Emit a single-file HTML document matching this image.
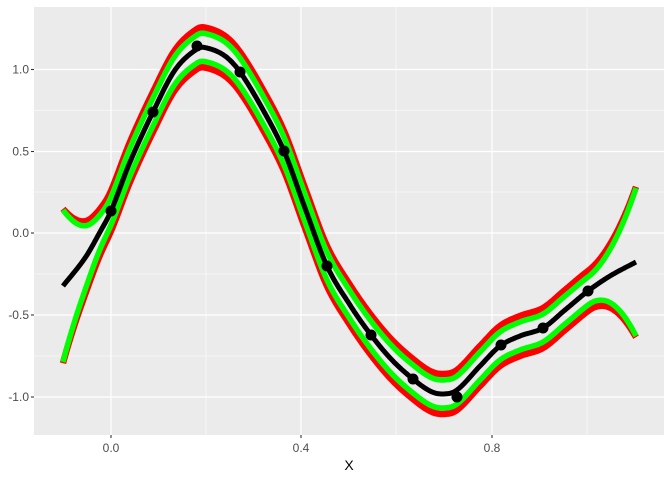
<!DOCTYPE html>
<html><head><meta charset="utf-8"><style>
body{margin:0;background:#fff;}
svg{display:block;font-family:"Liberation Sans",sans-serif;}
</style></head><body>
<svg id="s" width="672" height="480" xmlns="http://www.w3.org/2000/svg">
<rect x="34" y="7" width="630" height="428" fill="#ebebeb"/>
<g stroke="#fff" stroke-width="0.6">
<line x1="34" x2="664" y1="110.5" y2="110.5"/><line x1="34" x2="664" y1="192" y2="192"/>
<line x1="34" x2="664" y1="274" y2="274"/><line x1="34" x2="664" y1="356" y2="356"/>
<line x1="206" x2="206" y1="7" y2="435"/><line x1="396" x2="396" y1="7" y2="435"/><line x1="587" x2="587" y1="7" y2="435"/>
</g>
<g stroke="#fff" stroke-width="1.2">
<line x1="34" x2="664" y1="69.5" y2="69.5"/><line x1="34" x2="664" y1="151.5" y2="151.5"/>
<line x1="34" x2="664" y1="233" y2="233"/><line x1="34" x2="664" y1="315" y2="315"/><line x1="34" x2="664" y1="397" y2="397"/>
<line x1="111" x2="111" y1="7" y2="435"/><line x1="301" x2="301" y1="7" y2="435"/><line x1="492" x2="492" y1="7" y2="435"/>
</g>
<g id="curves" fill="none" stroke-linejoin="round" stroke-linecap="butt"></g>
<g id="pts" fill="#000"></g>
<g stroke="#333" stroke-width="1.1">
<line x1="31" x2="34" y1="69.5" y2="69.5"/><line x1="31" x2="34" y1="151.5" y2="151.5"/><line x1="31" x2="34" y1="233" y2="233"/><line x1="31" x2="34" y1="315" y2="315"/><line x1="31" x2="34" y1="397" y2="397"/>
<line x1="111" x2="111" y1="435" y2="438"/><line x1="301" x2="301" y1="435" y2="438"/><line x1="492" x2="492" y1="435" y2="438"/>
</g>
<g fill="#4d4d4d" font-size="12" text-anchor="end">
<text x="29" y="73.5">1.0</text><text x="29" y="155.5">0.5</text><text x="29" y="237">0.0</text><text x="29" y="319">-0.5</text><text x="29" y="401">-1.0</text>
</g>
<g fill="#4d4d4d" font-size="12" text-anchor="middle">
<text x="111" y="452">0.0</text><text x="301" y="452">0.4</text><text x="492" y="452">0.8</text>
</g>
<text x="349" y="470" font-size="14" text-anchor="middle" fill="#000">X</text>
</svg>
<script>
var K=[[63,286],[85,258],[100,232],[111,211],[130,162],[153,112],[175,70],[197,49],[207,48],[225,56],[240,72],[262,108],[284,151],[305,208],[327,266],[350,305],[371,335],[392,360],[413,379],[430,391],[443,394],[457,390],[480,366],[500,346],[520,336],[543,328],[565,310],[588,291],[610,276],[636,262]];
function mean(x){for(var i=0;i<K.length-1;i++){if(x<=K[i+1][0]){var p0=K[Math.max(i-1,0)],p1=K[i],p2=K[i+1],p3=K[Math.min(i+2,K.length-1)];var h=p2[0]-p1[0],t=(x-p1[0])/h;var m1=(p2[1]-p0[1])/(p2[0]-p0[0]||1)*h,m2=(p3[1]-p1[1])/(p3[0]-p1[0]||1)*h;var t2=t*t,t3=t2*t;return (2*t3-3*t2+1)*p1[1]+(t3-2*t2+t)*m1+(-2*t3+3*t2)*p2[1]+(t3-t2)*m2;}}return K[K.length-1][1];}
function ext(x){var e=0;if(x<111)e=62*Math.pow((111-x)/48,2);if(x>588)e=60*Math.pow((x-588)/48,2);return e;}
function off(x){return 14+ext(x);}
function roff(x){return off(x)+6*(1-0.8*Math.min(ext(x)/60,1));}
function path(f){var d="";for(var x=63;x<=636;x+=1){d+=(x==63?"M":"L")+x+","+f(x).toFixed(1);}return d;}
var g=document.getElementById("curves"),ns="http://www.w3.org/2000/svg";
function add(d,c,w){var p=document.createElementNS(ns,"path");p.setAttribute("d",d);p.setAttribute("stroke",c);p.setAttribute("stroke-width",w);g.appendChild(p);}
add(path(function(x){return mean(x)-roff(x);}),"#ff0000",6.5);
add(path(function(x){return mean(x)+roff(x);}),"#ff0000",6.5);
add(path(function(x){return mean(x)-off(x);}),"#00ff00",5.5);
add(path(function(x){return mean(x)+off(x);}),"#00ff00",5.5);
add(path(mean),"#000",5);
var P=[[111,211],[153,112],[197,46],[240,72],[284,151],[327,266],[371,335],[413,379],[457,397],[501,345],[543,328],[588,291]];
var pg=document.getElementById("pts");
P.forEach(function(p){var c=document.createElementNS(ns,"circle");c.setAttribute("cx",p[0]);c.setAttribute("cy",p[1]);c.setAttribute("r",5.5);pg.appendChild(c);});
</script>
</body></html>
